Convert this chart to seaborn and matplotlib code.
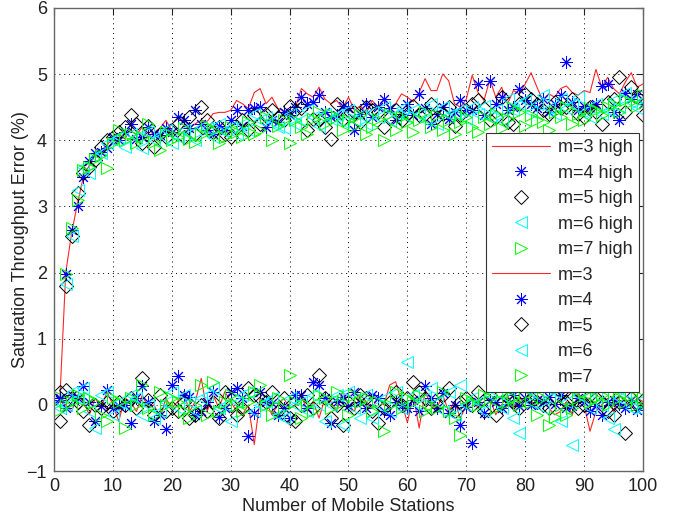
import numpy as np
import pandas as pd
import matplotlib
matplotlib.use('Agg')
import matplotlib.pyplot as plt
import seaborn as sns

# number of mobile stations
stations = list(range(1, 101))

# "high" curves
m3_high = [0.10, 2.00, 2.60, 3.05, 3.45, 3.62, 3.78, 3.85, 3.92, 4.05,
           4.10, 4.02, 4.15, 4.08, 4.20, 4.05, 4.12, 4.18, 4.30, 4.15,
           4.10, 4.22, 4.18, 4.25, 4.30, 4.28, 4.40, 4.42, 4.42, 4.45,
           4.60, 4.55, 4.48, 4.72, 4.78, 4.55, 4.65, 4.48, 4.45, 4.40,
           4.50, 4.78, 4.70, 4.65, 4.80, 4.62, 4.55, 4.60, 4.48, 4.65,
           4.45, 4.52, 4.40, 4.60, 4.50, 4.62, 4.48, 4.55, 4.70, 4.65,
           4.58, 4.72, 4.93, 4.75, 4.75, 5.00, 4.90, 4.55, 4.50, 4.62,
           4.98, 4.72, 4.60, 4.92, 4.65, 4.80, 4.55, 4.75, 4.70, 4.85,
           5.02, 4.80, 4.60, 4.70, 4.65, 4.78, 4.82, 4.72, 4.68, 4.75,
           4.72, 5.07, 4.80, 4.95, 4.78, 4.70, 4.88, 5.02, 4.80, 4.85]
m4_high = [0.08, 1.97, 2.65, 3.00, 3.45, 3.68, 3.80, 3.82, 3.88, 4.05,
           4.00, 4.12, 4.25, 4.02, 4.05, 4.20, 4.10, 4.08, 4.18, 4.12,
           4.35, 4.30, 4.18, 4.45, 4.25, 4.15, 4.10, 4.22, 4.15, 4.30,
           4.45, 4.22, 4.45, 4.48, 4.50, 4.20, 4.30, 4.28, 4.42, 4.38,
           4.50, 4.65, 4.55, 4.58, 4.68, 4.42, 4.35, 4.38, 4.52, 4.48,
           4.15, 4.40, 4.55, 4.35, 4.50, 4.62, 4.48, 4.30, 4.40, 4.55,
           4.38, 4.70, 4.48, 4.25, 4.40, 4.50, 4.32, 4.42, 4.60, 4.45,
           4.45, 4.85, 4.38, 4.90, 4.55, 4.65, 4.45, 4.50, 4.78, 4.60,
           4.55, 4.48, 4.62, 4.42, 4.55, 4.68, 5.18, 4.58, 4.45, 4.52,
           4.48, 4.55, 4.82, 4.85, 4.42, 4.30, 4.72, 4.62, 4.70, 4.55]
m5_high = [0.20, 1.80, 2.55, 3.20, 3.50, 3.60, 3.70, 3.90, 4.00, 4.05,
           4.12, 4.20, 4.38, 4.25, 3.95, 4.22, 3.90, 4.10, 4.05, 4.15,
           4.25, 4.05, 4.35, 4.10, 4.50, 4.30, 4.12, 4.20, 4.10, 4.05,
           4.20, 4.30, 4.15, 4.38, 4.25, 4.40, 4.45, 4.35, 4.30, 4.52,
           4.45, 4.48, 4.15, 4.32, 4.30, 4.20, 4.02, 4.55, 4.32, 4.40,
           4.42, 4.28, 4.50, 4.45, 4.42, 4.20, 4.35, 4.45, 4.30, 4.40,
           4.52, 4.38, 4.40, 4.55, 4.35, 4.40, 4.50, 4.22, 4.38, 4.45,
           4.55, 4.60, 4.48, 4.30, 4.35, 4.65, 4.28, 4.25, 4.55, 4.70,
           4.62, 4.55, 4.45, 4.40, 4.58, 4.48, 4.50, 4.62, 4.40, 4.35,
           4.50, 4.42, 4.25, 4.58, 4.62, 4.95, 4.42, 4.80, 4.65, 4.38]
m6_high = [0.05, 1.82, 2.55, 3.25, 3.60, 3.50, 3.75, 3.80, 3.95, 4.00,
           4.05, 3.90, 4.10, 4.05, 3.88, 4.12, 4.00, 4.08, 4.15, 3.95,
           4.05, 4.15, 4.10, 4.00, 4.20, 4.18, 4.05, 4.25, 4.12, 4.20,
           4.10, 4.25, 4.15, 4.40, 4.30, 4.35, 4.28, 4.20, 4.18, 4.40,
           4.25, 4.30, 4.45, 4.35, 4.22, 4.40, 4.32, 4.38, 4.28, 4.45,
           4.30, 4.38, 4.25, 4.42, 4.35, 4.50, 4.30, 4.40, 4.48, 4.35,
           4.45, 4.40, 4.30, 4.55, 4.25, 4.50, 4.38, 4.40, 4.45, 4.32,
           4.50, 4.40, 4.52, 4.35, 4.45, 4.30, 4.62, 4.45, 4.55, 4.60,
           4.42, 4.55, 4.68, 4.48, 4.40, 4.62, 4.48, 4.55, 4.65, 4.42,
           4.35, 4.55, 4.40, 4.45, 4.60, 4.50, 4.72, 4.58, 4.48, 4.60]
m7_high = [0.12, 1.98, 2.68, 3.10, 3.55, 3.60, 3.72, 3.78, 3.58, 3.95,
           4.15, 4.00, 4.10, 3.95, 4.05, 4.25, 3.98, 3.85, 4.12, 4.00,
           4.05, 4.18, 4.02, 3.98, 4.08, 4.22, 4.15, 3.95, 4.05, 4.20,
           4.12, 4.05, 4.28, 4.10, 4.15, 4.35, 4.00, 4.22, 4.30, 3.95,
           4.30, 4.20, 4.10, 4.32, 4.42, 4.25, 4.40, 4.35, 4.15, 4.30,
           4.22, 4.38, 4.10, 4.20, 4.32, 4.00, 4.40, 4.15, 4.35, 4.28,
           4.12, 4.30, 4.42, 4.20, 4.38, 4.15, 4.30, 4.10, 4.28, 4.35,
           4.20, 4.12, 4.35, 4.25, 4.40, 4.18, 4.32, 4.48, 4.42, 4.22,
           4.38, 4.30, 4.28, 4.15, 4.42, 4.35, 4.50, 4.25, 4.40, 4.30,
           4.48, 4.45, 4.38, 4.50, 4.55, 4.42, 4.60, 4.58, 4.52, 4.68]

# normal curves (around zero)
m3_low = [0.05, 0.00, -0.10, 0.15, 0.05, -0.15, 0.10, -0.05, 0.20, 0.00,
          -0.25, 0.10, 0.05, -0.10, 0.15, -0.05, 0.00, -0.20, 0.10, -0.05,
          0.05, 0.20, -0.10, 0.05, 0.40, -0.10, 0.15, -0.05, 0.20, 0.05,
          -0.10, -0.15, 0.00, -0.60, 0.10, 0.05, -0.15, 0.00, 0.10, -0.05,
          0.00, 0.15, -0.10, 0.05, -0.20, 0.10, 0.05, -0.10, 0.20, 0.00,
          -0.10, 0.15, 0.05, -0.05, 0.10, 0.00, 0.30, 0.35, 0.05, -0.27,
          0.15, -0.35, 0.20, 0.00, -0.05, 0.15, -0.10, 0.05, -0.20, 0.00,
          0.10, -0.05, 0.05, 0.10, -0.15, 0.00, 0.15, -0.05, 0.10, 0.05,
          0.05, 0.00, 0.15, -0.05, -0.15, -0.10, 0.05, -0.15, 0.20, 0.00,
          -0.40, -0.10, 0.00, 0.10, -0.10, 0.15, 0.05, -0.05, 0.10, 0.05]
m4_low = [0.10, -0.05, 0.15, 0.10, 0.28, 0.05, -0.25, -0.02, 0.22, -0.05,
          -0.02, 0.00, -0.28, 0.10, 0.28, 0.05, -0.25, -0.15, -0.37, 0.30,
          0.43, 0.15, 0.12, -0.15, -0.10, 0.05, 0.20, -0.18, -0.05, 0.20,
          0.25, 0.10, -0.47, -0.12, 0.20, 0.05, 0.03, -0.15, -0.05, -0.20,
          0.15, 0.15, -0.05, 0.35, 0.30, 0.10, -0.28, 0.05, 0.12, -0.02,
          0.20, 0.05, -0.05, 0.15, 0.10, -0.10, -0.15, 0.05, 0.00, -0.05,
          0.08, -0.10, 0.28, 0.10, -0.05, 0.18, -0.12, 0.00, -0.30, -0.03,
          -0.58, 0.05, -0.12, 0.08, 0.05, -0.05, 0.02, 0.15, -0.02, 0.10,
          0.00, 0.08, 0.05, 0.12, 0.02, 0.15, -0.05, -0.02, 0.10, 0.05,
          -0.10, -0.02, -0.15, 0.05, 0.08, 0.02, -0.05, 0.08, -0.08, -0.02]
m5_low = [-0.25, 0.22, 0.10, 0.05, -0.10, -0.30, 0.00, -0.05, 0.05, -0.10,
          0.05, 0.00, 0.10, -0.05, 0.40, 0.08, -0.15, 0.15, -0.10, -0.05,
          -0.10, 0.05, -0.20, -0.15, 0.00, -0.10, 0.05, -0.20, 0.20, 0.00,
          -0.15, -0.05, 0.25, 0.15, 0.10, 0.05, 0.20, -0.10, 0.10, -0.20,
          -0.25, 0.00, 0.15, -0.05, 0.45, 0.10, -0.20, 0.00, -0.30, 0.05,
          -0.05, 0.15, 0.10, -0.10, -0.27, -0.05, 0.05, 0.20, 0.00, 0.10,
          0.35, 0.20, 0.10, -0.05, 0.00, 0.15, 0.25, -0.10, 0.05, 0.10,
          0.00, 0.20, -0.10, 0.15, -0.15, 0.05, 0.10, 0.05, -0.05, 0.15,
          0.10, 0.05, 0.00, -0.05, 0.12, 0.20, 0.05, 0.10, -0.05, 0.00,
          0.15, 0.10, 0.05, -0.10, -0.15, 0.05, -0.43, 0.10, 0.00, 0.08]
m6_low = [-0.05, 0.00, 0.20, 0.10, 0.25, -0.10, -0.35, 0.15, 0.20, -0.15,
          0.05, 0.00, 0.15, 0.10, -0.15, 0.00, -0.20, -0.10, 0.05, 0.20,
          -0.05, 0.15, 0.05, -0.10, 0.10, 0.15, 0.25, -0.05, 0.00, -0.25,
          0.05, 0.15, 0.20, -0.10, 0.00, 0.05, 0.10, -0.15, -0.20, 0.10,
          0.00, 0.05, -0.10, 0.15, 0.00, -0.25, 0.00, 0.15, -0.30, 0.20,
          -0.05, -0.20, 0.15, -0.20, 0.00, 0.10, -0.10, 0.20, -0.05, 0.64,
          0.15, 0.00, 0.10, 0.25, 0.05, -0.10, 0.20, -0.15, 0.30, 0.00,
          0.10, 0.05, -0.10, 0.15, 0.20, -0.05, 0.10, -0.20, -0.42, 0.25,
          0.05, 0.15, -0.05, 0.10, 0.20, -0.25, 0.05, -0.60, 0.15, 0.10,
          -0.05, 0.15, 0.00, -0.20, -0.37, 0.10, 0.20, -0.05, 0.05, -0.10]
m7_low = [-0.08, 0.00, 0.05, 0.15, -0.05, 0.10, 0.05, -0.15, -0.25, 0.10,
          0.05, -0.35, 0.10, 0.00, 0.30, -0.05, -0.15, 0.20, 0.00, 0.10,
          0.05, -0.10, -0.20, 0.00, 0.30, -0.15, 0.35, -0.10, 0.05, 0.15,
          0.00, -0.10, 0.05, 0.20, 0.30, 0.00, -0.15, 0.10, -0.05, 0.45,
          0.05, -0.20, 0.00, -0.10, 0.15, 0.10, -0.05, 0.20, 0.05, -0.15,
          0.15, 0.05, 0.10, -0.10, 0.05, -0.40, 0.00, 0.20, -0.05, 0.10,
          0.05, 0.15, -0.10, 0.00, -0.05, 0.20, -0.10, -0.20, -0.45, 0.10,
          0.05, 0.00, 0.15, 0.10, -0.05, 0.20, 0.05, 0.10, 0.00, 0.15,
          0.05, -0.15, 0.10, -0.30, -0.18, 0.00, -0.15, -0.05, 0.10, 0.20,
          0.05, 0.10, 0.15, 0.00, 0.20, 0.10, 0.05, 0.15, 0.00, 0.10]

sns.set_style('white')
plt.rcParams['font.family'] = ['Liberation Sans', 'DejaVu Sans']

fig = plt.figure(figsize=(6.79, 5.23), dpi=100)
ax = fig.add_axes([0.0795, 0.0994, 0.8675, 0.8856])

styles = [
    ('m=3', '-', None, 'red'),
    ('m=4', '', (8, 2, 0), 'blue'),
    ('m=5', '', 'D', 'black'),
    ('m=6', '', '<', 'cyan'),
    ('m=7', '', '>', 'lime'),
]


def draw(series, suffix):
    for (label, ls, marker, color), vals in zip(styles, series):
        df = pd.DataFrame({'n': stations, 'err': vals})
        if marker is None:
            sns.lineplot(data=df, x='n', y='err', ax=ax, color=color, lw=0.8,
                         alpha=0.85, label=label + suffix)
        else:
            ms = 9 if marker == (8, 2, 0) else (7.5 if marker == 'D' else 8.5)
            sns.lineplot(data=df, x='n', y='err', ax=ax, color=color, ls='',
                         marker=marker, ms=ms, mfc='none', mec=color, mew=0.7,
                         label=label + suffix)


draw([m3_high, m4_high, m5_high, m6_high, m7_high], ' high')
draw([m3_low, m4_low, m5_low, m6_low, m7_low], '')

ax.set_xlim(0, 100)
ax.set_ylim(-1, 6)
ax.set_xticks(range(0, 101, 10))
ax.set_yticks(range(-1, 7))
ax.set_yticklabels(['\u22121', '0', '1', '2', '3', '4', '5', '6'])
ax.grid(True, color='black', linestyle=(0, (1, 4)), linewidth=0.7)
ax.tick_params(direction='in', length=5, top=True, right=True, labelsize=13,
               colors='#222222', pad=5)
for sp in ax.spines.values():
    sp.set_color('#666666')
    sp.set_linewidth(1.0)
ax.set_xlabel('Number of Mobile Stations', fontsize=13, color='#222222', labelpad=2)
ax.set_ylabel('Saturation Throughput Error (%)', fontsize=13, color='#222222', labelpad=-2)

leg = ax.legend(loc='upper left', bbox_to_anchor=(0.733, 0.730), borderaxespad=0,
                fontsize=13, handlelength=3.2, handletextpad=0.45, labelspacing=0.47,
                frameon=True, fancybox=False, framealpha=1, borderpad=0.35)
leg.get_frame().set_edgecolor('#333333')
leg.get_frame().set_linewidth(0.8)

fig.savefig('out.png', dpi=100)
